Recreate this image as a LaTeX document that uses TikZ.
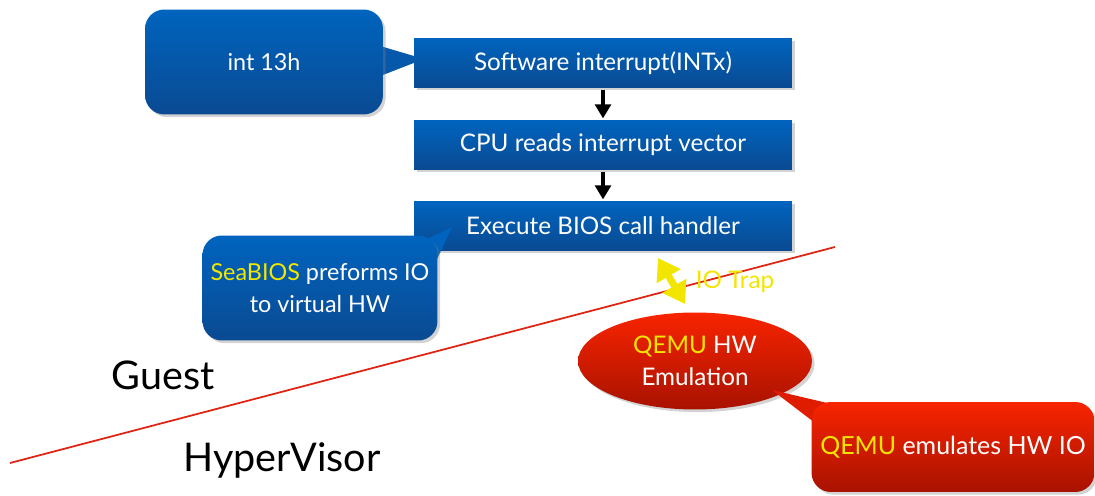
\documentclass[tikz,border=0pt]{standalone}
\usepackage{fontspec}
\setmainfont{Lato}
\usetikzlibrary{shapes.geometric,shadows,arrows.meta}
\definecolor{boxtop}{HTML}{0064BE}
\definecolor{boxbot}{HTML}{0A4A92}
\definecolor{boxmid}{HTML}{0558AA}
\definecolor{redtop}{HTML}{F82400}
\definecolor{redbot}{HTML}{A81200}
\definecolor{redmid}{HTML}{E01C00}
\definecolor{hl}{HTML}{F2E600}
\definecolor{divider}{HTML}{E02414}
\begin{document}
\begin{tikzpicture}[x=0.02cm,y=-0.02cm,
  stepbox/.style={rectangle,minimum width=7.56cm,minimum height=0.98cm,
    top color=boxtop,bottom color=boxbot,text=white,
    font=\fontsize{13.8}{16}\selectfont,
    drop shadow={opacity=0.35,shadow xshift=1.5pt,shadow yshift=-1.5pt}},
  bluenote/.style={rectangle,rounded corners=11pt,top color=boxtop,bottom color=boxbot,
    text=white,align=center,font=\fontsize{13.3}{18}\selectfont,
    drop shadow={opacity=0.35,shadow xshift=1.5pt,shadow yshift=-1.5pt}},
  rednote/.style={rectangle,rounded corners=11pt,top color=redtop,bottom color=redbot,
    text=white,align=center,font=\fontsize{14.2}{18}\selectfont,
    drop shadow={opacity=0.35,shadow xshift=1.5pt,shadow yshift=-1.5pt}},
  flow/.style={-{Triangle[width=9pt,length=8pt]},line width=1.9pt,shorten >=1pt,shorten <=1pt},
  trap/.style={{Triangle[width=15pt,length=12pt]}-{Triangle[width=15pt,length=12pt]},line width=4pt,hl},
  big/.style={font=\fontsize{22.5}{26}\selectfont}]
\useasboundingbox (0,0) rectangle (1095,496);

% divider between guest and hypervisor
\coordinate (divL) at (10,463);
\coordinate (divR) at (835,247);
\draw[divider,line width=1pt] (divL) -- (divR);

% the call chain
\node[stepbox] (swint) at (603,63) {Software interrupt(INTx)};
\node[stepbox] (cpuvec) at (603,145) {CPU reads interrupt vector};
\node[stepbox] (handler) at (603,226) {Execute BIOS call handler};
\draw[flow] (swint) -- (cpuvec);
\draw[flow] (cpuvec) -- (handler);

% callouts
\fill[boxmid] (370,43) -- (424,59) -- (370,80) -- cycle;
\node[bluenote,minimum width=4.76cm,minimum height=2.1cm] (int13) at (264,62) {int 13h};

\fill[boxtop] (395,255) -- (452,227) -- (432,270) -- cycle;
\node[bluenote,minimum width=4.7cm,minimum height=2.1cm] (seabios) at (320,288)
  {\textcolor{hl}{SeaBIOS} preforms IO\\to virtual HW};

\node[ellipse,minimum width=4.68cm,minimum height=1.94cm,top color=redtop,bottom color=redbot,
  text=white,align=center,font=\fontsize{13.8}{18}\selectfont,
  drop shadow={opacity=0.35,shadow xshift=1.5pt,shadow yshift=-1.5pt}] (qemu) at (695,361)
  {\textcolor{hl}{QEMU} HW\\Emulation};

\fill[redmid] (840,406) -- (772,390) -- (840,442) -- cycle;
\node[rednote,minimum width=5.66cm,minimum height=1.8cm] (emul) at (953,447)
  {\textcolor{hl}{QEMU} emulates HW IO};

% io trap
\coordinate (trapA) at (658,258);
\coordinate (trapB) at (685,304);
\draw[trap] (trapA) -- (trapB);
\node[text=hl,font=\fontsize{13.8}{16}\selectfont] (traplbl) at (735,282) {IO Trap};

\node[big] (guest) at (163,375) {Guest};
\node[big] (hv) at (282,460) {HyperVisor};
\end{tikzpicture}
\end{document}
